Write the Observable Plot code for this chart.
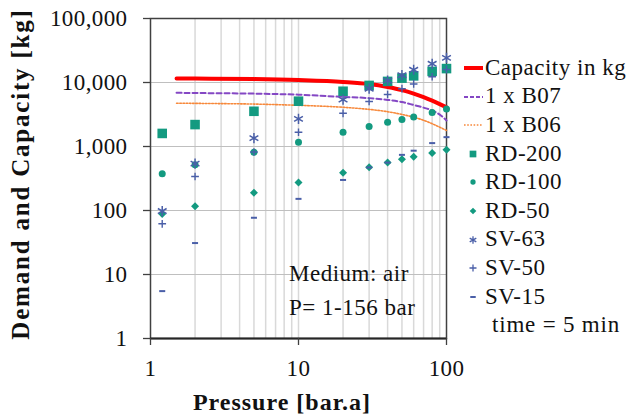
<!DOCTYPE html>
<html><head><meta charset="utf-8">
<script src="https://cdn.jsdelivr.net/npm/d3@7"></script>
<script src="https://cdn.jsdelivr.net/npm/@observablehq/plot@0.6"></script>
<style>
body{margin:0;background:#fff;}
#wrap{position:relative;width:630px;height:419px;font-family:"Liberation Serif",serif;color:#111;overflow:hidden;}
#wrap > svg{position:absolute;left:0;top:0;}
.t{position:absolute;white-space:nowrap;}
</style></head>
<body><div id="wrap"></div>
<script>
// ---- data ----
const pressure = [1.2, 2, 5, 10, 20, 30, 40, 50, 60, 80, 100];
const rd200 = [1600, 2200, 3550, 5100, 7300, 9000, 10400, 11700, 12700, 14900, 16500];
const rd100 = [375, 520, 815, 1170, 1670, 2050, 2400, 2650, 2900, 3400, 3850];
const rd50  = [88, 117, 190, 275, 390, 475, 560, 630, 690, 790, 890];
const sv63  = [98, 540, 1350, 2700, 5400, 8000, 10700, 13000, 15800, 19600, 24300];
const sv50  = [62, 340, 820, 1670, 3300, 5050, 6500, 8000, 9500, 12300, 16000];
const sv15  = [5.5, 31, 77, 152, 300, 470, 560, 740, 860, 1130, 1400];

const curveP   = [1.5, 2, 5, 10, 20, 30, 40, 50, 60, 70, 80, 90, 100];
const capacity = [11550, 11500, 11300, 10900, 10200, 9450, 8500, 7600, 6700, 5900, 5200, 4600, 4100];
const b07      = [6900, 6850, 6700, 6450, 5950, 5700, 5350, 4950, 4450, 4050, 3650, 3150, 2550];
const b06      = [4750, 4720, 4600, 4400, 4100, 3800, 3500, 3170, 2870, 2570, 2270, 2000, 1780];

const xTicks = [1, 10, 100];
const yTicks = [1, 10, 100, 1000, 10000, 100000];
const xMinor = [2,3,4,5,6,7,8,9,10,20,30,40,50,60,70,80,90];

const legendLabels = ["Capacity in kg","1 x B07","1 x B06","RD-200","RD-100","RD-50","SV-63","SV-50","SV-15"];
const noteLines = ["Medium: air", "P= 1-156 bar"];
const legendNote = "time = 5 min";
const xTitle = "Pressure [bar.a]";
const yTitle = "Demand and Capacity [kg]";

// ---- styles ----
const TEAL = "#139a80", BLUE = "#4a5fa8";
const dash = {draw(ctx, size){ const r = Math.sqrt(size)/2; ctx.moveTo(-r,0); ctx.lineTo(r,0); }};

const pts = (ys) => pressure.map((p,i)=>({x:p, y:ys[i]}));
const crv = (ys) => curveP.map((p,i)=>({x:p, y:ys[i]}));

const chart = Plot.plot({
  width: 630, height: 419,
  marginLeft: 150, marginRight: 184, marginTop: 18, marginBottom: 81,
  style: {fontFamily: "Liberation Serif, serif", fontSize: "23px", color: "#111", background: "transparent", letterSpacing: "0.4px"},
  x: {type: "log", domain: [1, 100]},
  y: {type: "log", domain: [1, 100000]},
  marks: [
    Plot.ruleX(xMinor, {stroke: "#d9d9d9", strokeWidth: 1.5}),
    Plot.ruleY(yTicks, {stroke: "#bfbfbf", strokeWidth: 1.2}),
    Plot.frame({stroke: "#404040", strokeWidth: 1.5}),
    Plot.ruleY([1], {stroke: "#262626", strokeWidth: 2}),
    Plot.axisX({ticks: xTicks, tickFormat: d3.format(","), tickSize: 7, tickPadding: 14, label: null, stroke: "#404040", strokeWidth: 1.3}),
    Plot.axisY({ticks: yTicks, tickFormat: d3.format(","), tickSize: 7, tickPadding: 16, label: null, stroke: "#404040", strokeWidth: 1.3}),
    Plot.line(crv(capacity), {x: "x", y: "y", stroke: "#ff0000", strokeWidth: 4, curve: "monotone-x"}),
    Plot.line(crv(b07), {x: "x", y: "y", stroke: "#8447c4", strokeWidth: 2, strokeDasharray: "5,3", curve: "monotone-x"}),
    Plot.line(crv(b06), {x: "x", y: "y", stroke: "#f7883a", strokeWidth: 1.6, strokeDasharray: "1.6,1.6", curve: "monotone-x"}),
    Plot.dot(pts(rd200), {x: "x", y: "y", symbol: "square", r: 5.4, fill: TEAL, stroke: "none"}),
    Plot.dot(pts(rd100), {x: "x", y: "y", symbol: "circle", r: 3.5, fill: TEAL, stroke: "none"}),
    Plot.dot(pts(rd50),  {x: "x", y: "y", symbol: "diamond2", r: 3.6, fill: TEAL, stroke: "none"}),
    Plot.dot(pts(sv63),  {x: "x", y: "y", symbol: "asterisk", r: 4.8, fill: "none", stroke: BLUE, strokeWidth: 1.5}),
    Plot.dot(pts(sv50),  {x: "x", y: "y", symbol: "plus", r: 2.6, fill: "none", stroke: BLUE, strokeWidth: 1.4}),
    Plot.dot(pts(sv15),  {x: "x", y: "y", symbol: dash, r: 3.4, fill: "none", stroke: BLUE, strokeWidth: 2})
  ]
});

const wrap = document.getElementById("wrap");
wrap.appendChild(chart);

// ---- axis titles ----
const xt = document.createElement("div");
xt.className = "t"; xt.textContent = xTitle;
Object.assign(xt.style, {left: "282px", top: "390px", fontWeight: "bold", fontSize: "24px", lineHeight: "24px", letterSpacing: "1px", transform: "translateX(-50%)"});
wrap.appendChild(xt);

const yt = document.createElement("div");
yt.className = "t"; yt.textContent = yTitle;
Object.assign(yt.style, {left: "20px", top: "174px", fontWeight: "bold", fontSize: "25px", lineHeight: "25px", letterSpacing: "1.8px", transform: "translate(-50%,-50%) rotate(-90deg)"});
wrap.appendChild(yt);

// ---- annotation ----
const note = document.createElement("div");
note.className = "t";
Object.assign(note.style, {left: "289px", top: "257px", fontSize: "23px", lineHeight: "34px", letterSpacing: "0.5px"});
note.innerHTML = noteLines.map(s => `<div>${s}</div>`).join("");
wrap.appendChild(note);

// ---- legend ----
const rowH = 28.6, row0 = 68;
const legendStyles = [
  {type: "line", stroke: "#ff0000", w: 4},
  {type: "line", stroke: "#8447c4", w: 2, dash: "4,2"},
  {type: "line", stroke: "#f7883a", w: 1.6, dash: "1.6,1.6"},
  {type: "sym", sym: d3.symbolSquare, size: 45, fill: TEAL},
  {type: "sym", sym: d3.symbolCircle, size: 22, fill: TEAL},
  {type: "sym", sym: d3.symbolDiamond2, size: 28, fill: TEAL},
  {type: "sym", sym: d3.symbolAsterisk, size: 40, stroke: BLUE},
  {type: "sym", sym: d3.symbolPlus, size: 18, stroke: BLUE},
  {type: "sym", sym: dash, size: 30, stroke: BLUE, w: 2}
];
legendLabels.forEach((lab, i) => {
  const cy = row0 + i*rowH;
  const s = legendStyles[i];
  const svg = d3.create("svg").attr("width", 24).attr("height", 20)
    .style("position", "absolute").style("left", "462px").style("top", (cy-10)+"px");
  if (s.type === "line") {
    svg.append("line").attr("x1", 2).attr("x2", 21).attr("y1", 10).attr("y2", 10)
      .attr("stroke", s.stroke).attr("stroke-width", s.w).attr("stroke-dasharray", s.dash || null);
  } else {
    svg.append("path").attr("transform", "translate(11,10)")
      .attr("d", d3.symbol(s.sym, s.size)())
      .attr("fill", s.fill || "none").attr("stroke", s.stroke || "none").attr("stroke-width", s.w || 1.3);
  }
  wrap.appendChild(svg.node());
  const t = document.createElement("div");
  t.className = "t"; t.textContent = lab;
  Object.assign(t.style, {left: "485px", top: (cy - rowH/2)+"px", height: rowH+"px", lineHeight: rowH+"px", fontSize: "23px", letterSpacing: "0.5px"});
  wrap.appendChild(t);
});
const tn = document.createElement("div");
tn.className = "t"; tn.textContent = legendNote;
Object.assign(tn.style, {left: "492px", top: (row0 + 9*rowH - rowH/2)+"px", height: rowH+"px", lineHeight: rowH+"px", fontSize: "23px", letterSpacing: "0.8px"});
wrap.appendChild(tn);
</script>
</body></html>
